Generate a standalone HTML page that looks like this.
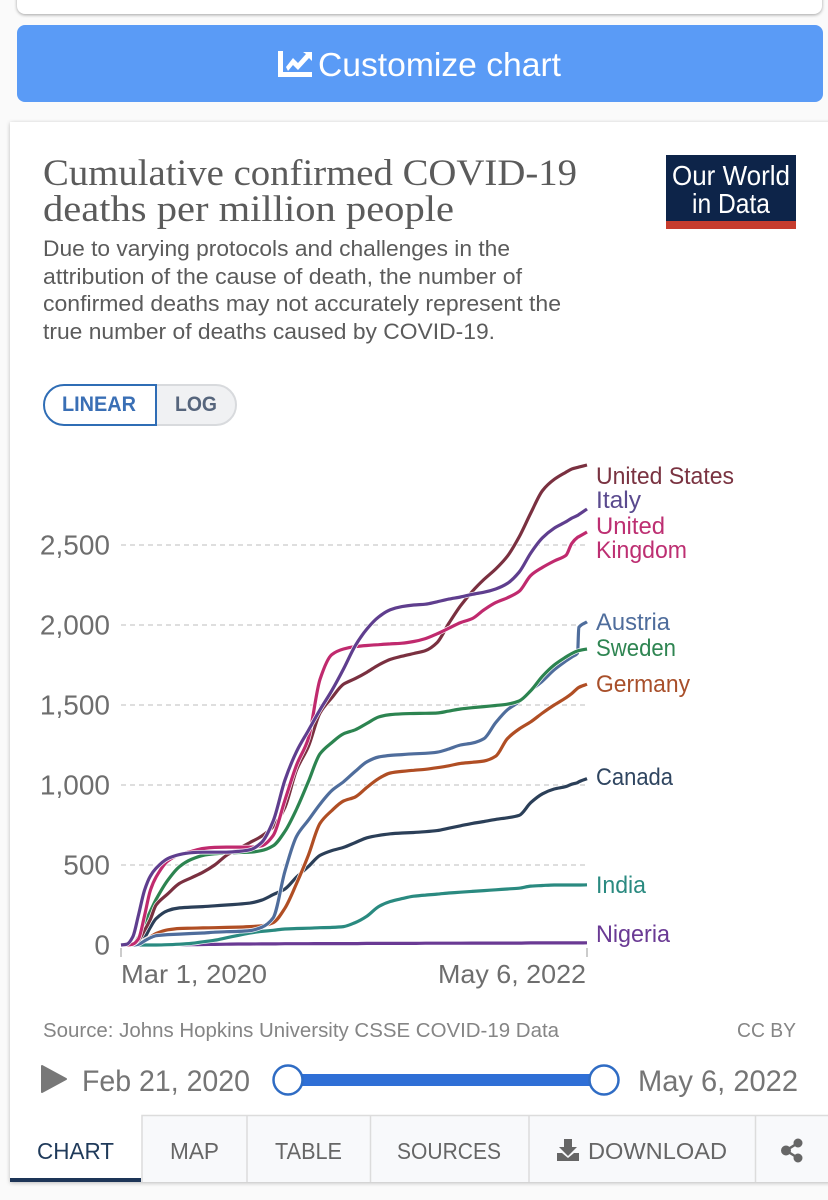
<!DOCTYPE html>
<html lang="en">
<head>
<meta charset="utf-8">
<title>Cumulative confirmed COVID-19 deaths per million people</title>
<style>
  html, body { margin: 0; padding: 0; width: 828px; height: 1200px; overflow: hidden; background: #fafafa; }
  #page { position: relative; width: 828px; height: 1200px; overflow: hidden; }
  .box { position: absolute; box-sizing: border-box; }
  svg { position: absolute; left: 0; top: 0; }
  text { font-family: "Liberation Sans", sans-serif; }
  .serif { font-family: "Liberation Serif", serif; }
  .sub { font-size: 22px; fill: #5b5b5b; }
  .title { font-size: 37px; fill: #5b5b5b; }
  .lab { font-size: 24px; }
  .tab { font-size: 23px; fill: #666; }
</style>
</head>
<body>
<div id="page">
  <div class="box" style="left:17px;top:-20px;width:805px;height:34px;background:#fff;border-radius:8px;box-shadow:0 1px 3px rgba(0,0,0,.35)"></div>
  <div class="box" style="left:17px;top:25px;width:806px;height:77px;background:#5a9bf6;border-radius:8px"></div>
  <div class="box" style="left:10px;top:122px;width:830px;height:1060px;background:#fff;box-shadow:0 1px 4px rgba(0,0,0,.25)"></div>

  <svg id="main" width="828" height="1200" viewBox="0 0 828 1200">
    <!-- Customize button -->
    <g>
      <path d="M278 51h5v21h29v5h-34z M286 67l7-9 5 5 8-9-3-2h9v9l-3-3-11 12-5-5-5 6z" fill="#fff"/>
      <text x="318" y="76" font-size="33" fill="#fff" textLength="243" lengthAdjust="spacingAndGlyphs">Customize chart</text>
    </g>

    <!-- Heading -->
    <text class="serif title" x="43" y="185" textLength="534" lengthAdjust="spacingAndGlyphs">Cumulative confirmed COVID-19</text>
    <text class="serif title" x="43" y="221" textLength="411" lengthAdjust="spacingAndGlyphs">deaths per million people</text>
    <text class="sub" x="43" y="256" textLength="467" lengthAdjust="spacingAndGlyphs">Due to varying protocols and challenges in the</text>
    <text class="sub" x="43" y="284" textLength="479" lengthAdjust="spacingAndGlyphs">attribution of the cause of death, the number of</text>
    <text class="sub" x="43" y="311" textLength="518" lengthAdjust="spacingAndGlyphs">confirmed deaths may not accurately represent the</text>
    <text class="sub" x="43" y="339" textLength="452" lengthAdjust="spacingAndGlyphs">true number of deaths caused by COVID-19.</text>

    <!-- Logo -->
    <g>
      <rect x="666" y="155" width="130" height="66" fill="#0d2449"/>
      <rect x="666" y="221" width="130" height="8" fill="#c63c2e"/>
      <text x="672" y="185" font-size="28" fill="#fff" textLength="118" lengthAdjust="spacingAndGlyphs">Our World</text>
      <text x="692" y="213" font-size="28" fill="#fff" textLength="78" lengthAdjust="spacingAndGlyphs">in Data</text>
    </g>

    <!-- Scale toggle -->
    <g>
      <path d="M150 385h66a20 20 0 0 1 0 40h-66z" fill="#f0f1f3" stroke="#d8dadd" stroke-width="2"/>
      <path d="M156 385H64a20 20 0 0 0 0 40h92z" fill="#fff" stroke="#2f6db5" stroke-width="2"/>
      <text x="62" y="411" font-size="21" font-weight="700" fill="#3a6fb5" textLength="74" lengthAdjust="spacingAndGlyphs">LINEAR</text>
      <text x="175" y="411" font-size="21" font-weight="700" fill="#56657c" textLength="42" lengthAdjust="spacingAndGlyphs">LOG</text>
    </g>

    <g id="grid-layer"></g>
    <g id="tick-layer"></g>
    <g id="line-layer"></g>

    <!-- End labels -->
    <g>
      <text class="lab" x="596" y="484" fill="#7a3341" textLength="138" lengthAdjust="spacingAndGlyphs">United States</text>
      <text class="lab" x="596" y="508" fill="#5a4a8e" textLength="45" lengthAdjust="spacingAndGlyphs">Italy</text>
      <text class="lab" x="596" y="534" fill="#bd2f72" textLength="69" lengthAdjust="spacingAndGlyphs">United</text>
      <text class="lab" x="596" y="558" fill="#bd2f72" textLength="91" lengthAdjust="spacingAndGlyphs">Kingdom</text>
      <text class="lab" x="596" y="630" fill="#4f6d9c" textLength="74" lengthAdjust="spacingAndGlyphs">Austria</text>
      <text class="lab" x="596" y="656" fill="#2f8552" textLength="80" lengthAdjust="spacingAndGlyphs">Sweden</text>
      <text class="lab" x="596" y="692" fill="#a84f2a" textLength="94" lengthAdjust="spacingAndGlyphs">Germany</text>
      <text class="lab" x="596" y="785" fill="#2f4560" textLength="77" lengthAdjust="spacingAndGlyphs">Canada</text>
      <text class="lab" x="596" y="893" fill="#2a8a80" textLength="50" lengthAdjust="spacingAndGlyphs">India</text>
      <text class="lab" x="596" y="942" fill="#6a3a94" textLength="74" lengthAdjust="spacingAndGlyphs">Nigeria</text>
    </g>

    <!-- Footer -->
    <text x="43" y="1037" font-size="20" fill="#858585" textLength="516" lengthAdjust="spacingAndGlyphs">Source: Johns Hopkins University CSSE COVID-19 Data</text>
    <text x="737" y="1037" font-size="20" fill="#858585" textLength="59" lengthAdjust="spacingAndGlyphs">CC BY</text>

    <!-- Timeline -->
    <g>
      <path d="M42 1066 L66 1079 L42 1092 Z" fill="#787878" stroke="#787878" stroke-width="2" stroke-linejoin="round"/>
      <text x="82" y="1091" font-size="30" fill="#757575" textLength="168" lengthAdjust="spacingAndGlyphs">Feb 21, 2020</text>
      <rect x="288" y="1074" width="316" height="12" fill="#2f6fd6"/>
      <circle cx="288" cy="1080" r="14.500" fill="#fff" stroke="#2f6cc4" stroke-width="2.500"/>
      <circle cx="604" cy="1080" r="14.500" fill="#fff" stroke="#2f6cc4" stroke-width="2.500"/>
      <text x="638" y="1091" font-size="30" fill="#757575" textLength="160" lengthAdjust="spacingAndGlyphs">May 6, 2022</text>
    </g>

    <!-- Tabs -->
    <g>
      <rect x="142" y="1115" width="686" height="67" fill="#f8f9fb"/>
      <path d="M142 1182V1115.500H828 M247 1115V1182 M370.500 1115V1182 M529 1115V1182 M755.500 1115V1182" fill="none" stroke="#dcdcdc" stroke-width="1.500"/>
      <rect x="10" y="1178" width="131" height="4" fill="#1d3557"/>
      <text class="tab" x="37" y="1159" style="fill:#1f3a5a" textLength="77" lengthAdjust="spacingAndGlyphs">CHART</text>
      <text class="tab" x="170" y="1159" textLength="49" lengthAdjust="spacingAndGlyphs">MAP</text>
      <text class="tab" x="275" y="1159" textLength="67" lengthAdjust="spacingAndGlyphs">TABLE</text>
      <text class="tab" x="397" y="1159" textLength="104" lengthAdjust="spacingAndGlyphs">SOURCES</text>
      <path d="M564 1139h8v8h5l-9 9-9-9h5z M557 1153h5l6 5 6-5h5v8h-22z" fill="#666"/>
      <text class="tab" x="588" y="1159" textLength="139" lengthAdjust="spacingAndGlyphs">DOWNLOAD</text>
      <g fill="#666" stroke="#666">
        <circle cx="798" cy="1143" r="4" />
        <circle cx="786" cy="1150.500" r="4.500" />
        <circle cx="798" cy="1158" r="4" />
        <path d="M798 1143L786 1150.500L798 1158" fill="none" stroke-width="2.500"/>
      </g>
    </g>
  </svg>
</div>

<script>
// ---- Chart data: days since Mar 1, 2020; deaths per million ----
const days = [0,10,20,30,40,50,60,
  80,100,120,140,160,180,200,220,240,260,
  280,300,320,340,360,380,400,420,440,460,
  480,500,520,540,560,580,600,620,640,660,
  680,700,720,740,760,
  770,780,782,796];

const italyValues = [0,5,50,190,340,430,480,
  540,565,577,580,580,580,585,595,640,775,
  1030,1210,1340,1470,1590,1725,1870,1975,2050,2095,
  2115,2125,2130,2145,2162,2175,2192,2205,2225,2260,
  2330,2450,2545,2605,2645,
  2668,2685,2690,2725];

const ukValues = [0,0,5,40,180,340,425,
  525,565,585,603,610,612,612,612,620,685,
  905,1125,1290,1660,1815,1850,1865,1872,1877,1882,
  1886,1897,1915,1945,1980,2015,2040,2095,2140,2170,
  2210,2310,2360,2400,2435,
  2510,2548,2552,2581];

const usValues = [0,0,5,30,90,160,250,
  320,385,420,455,500,560,600,640,680,740,
  860,1095,1240,1450,1545,1630,1665,1705,1750,1785,
  1805,1822,1840,1890,2010,2120,2210,2285,2350,2430,
  2550,2700,2840,2910,2955,
  2975,2985,2987,3000];

const swedenValues = [0,0,5,50,130,210,285,
  405,490,535,560,570,575,578,580,590,620,
  710,850,1020,1195,1265,1320,1345,1385,1425,1440,
  1445,1447,1448,1450,1462,1475,1483,1490,1497,1505,
  1525,1590,1680,1750,1800,
  1822,1838,1840,1850];

const austriaValues = [0,0,0,5,25,45,58,
  65,68,72,75,80,83,85,90,110,170,
  460,680,780,880,965,1020,1085,1145,1175,1185,
  1190,1195,1198,1205,1225,1250,1262,1290,1390,1470,
  1520,1590,1650,1720,1775,
  1800,1825,1985,2020];

const germanyValues = [0,0,0,5,30,50,72,
  95,103,105,107,108,110,112,115,120,140,
  230,385,560,760,840,900,925,985,1040,1075,
  1085,1092,1098,1108,1120,1135,1142,1150,1180,1290,
  1350,1395,1450,1500,1545,
  1572,1605,1610,1630];

const canadaValues = [0,0,0,10,45,110,165,
  215,232,237,240,245,250,255,262,280,315,
  350,425,490,560,590,610,640,670,685,695,
  700,703,708,715,730,745,760,772,785,795,
  810,890,945,975,990,
  1005,1015,1020,1040];

const indiaValues = [0,0,0,0,0,0,0,
  2,5,10,20,30,45,60,75,85,92,
  100,103,105,108,110,115,140,180,240,272,
  290,305,312,318,325,330,335,340,345,350,
  355,368,372,375,375,
  375,375,375,376];

const nigeriaValues = [0,0,0,0,0,0,0,
  0,1,2,3,4,5,6,6,7,7,
  8,8,8,9,9,9,9,10,10,10,
  10,10,11,11,11,11,12,12,12,12,
  12,13,13,13,13,
  13,13,13,14];

const yTicks = [0,500,1000,1500,2000,2500];
const yTickLabels = ["0","500","1,000","1,500","2,000","2,500"];
const xTicks = [0,796];
const xTickLabels = ["Mar 1, 2020","May 6, 2022"];

// ---- Axis functions ----
const SVG_NS = "http://www.w3.org/2000/svg";
const plotLeft = 121, plotRight = 587, plotBottom = 945, plotPerUnit = 0.16;
const xMax = 796;
function xScale(d) { return plotLeft + (d / xMax) * (plotRight - plotLeft); }
function yScale(v) { return plotBottom - v * plotPerUnit; }

const gridLayer = document.getElementById("grid-layer");
const tickLayer = document.getElementById("tick-layer");
const lineLayer = document.getElementById("line-layer");

// ---- Y axis ----
yTicks.forEach(function (t, i) {
  if (t !== 0) {
    const g = document.createElementNS(SVG_NS, "line");
    
    
    g.setAttribute("x1", plotLeft);
    g.setAttribute("x2", plotRight);
    g.setAttribute("y1", yScale(t));
    g.setAttribute("y2", yScale(t));
    g.setAttribute("stroke", "#d4d4d4");
    g.setAttribute("stroke-width", "1.5");
    g.setAttribute("stroke-dasharray", "5 4");
    gridLayer.appendChild(g);
  }
  const lbl = document.createElementNS(SVG_NS, "text");
  
  
  lbl.setAttribute("x", 110);
  lbl.setAttribute("y", yScale(t) + 9.5);
  lbl.setAttribute("text-anchor", "end");
  lbl.setAttribute("font-size", "28");
  lbl.setAttribute("fill", "#6e6e6e");
  lbl.textContent = yTickLabels[i];
  tickLayer.appendChild(lbl);
});

// ---- X axis ----
xTicks.forEach(function (t, i) {
  const tk = document.createElementNS(SVG_NS, "line");
  
  
  tk.setAttribute("x1", xScale(t));
  tk.setAttribute("x2", xScale(t));
  tk.setAttribute("y1", plotBottom + 3);
  tk.setAttribute("y2", plotBottom + 12);
  tk.setAttribute("stroke", "#bbbbbb");
  tk.setAttribute("stroke-width", "1.5");
  tickLayer.appendChild(tk);
  const lbl = document.createElementNS(SVG_NS, "text");
  
  
  lbl.setAttribute("x", i === 0 ? xScale(t) : xScale(t) - 1);
  lbl.setAttribute("y", 983);
  lbl.setAttribute("text-anchor", i === 0 ? "start" : "end");
  lbl.setAttribute("font-size", "26");
  lbl.setAttribute("fill", "#6e6e6e");
  lbl.setAttribute("textLength", i === 0 ? "146" : "148");
  lbl.setAttribute("lengthAdjust", "spacingAndGlyphs");
  lbl.textContent = xTickLabels[i];
  tickLayer.appendChild(lbl);
});

// ---- Series: monotone cubic through the data points ----
function linePath(values) {
  const xs = days.map(xScale);
  const ys = values.map(yScale);
  const n = xs.length;
  const slopes = [];
  for (let i = 0; i < n - 1; i++) {
    slopes.push((ys[i + 1] - ys[i]) / (xs[i + 1] - xs[i]));
  }
  const tangents = [slopes[0]];
  for (let i = 1; i < n - 1; i++) {
    const a = slopes[i - 1], b = slopes[i];
    tangents.push(a * b <= 0 ? 0 : 2 * a * b / (a + b));
  }
  tangents.push(slopes[n - 2]);
  let path = "M" + xs[0].toFixed(1) + " " + ys[0].toFixed(1);
  for (let i = 0; i < n - 1; i++) {
    const h = (xs[i + 1] - xs[i]) / 3;
    path += "C" + (xs[i] + h).toFixed(1) + " " + (ys[i] + tangents[i] * h).toFixed(1) +
      " " + (xs[i + 1] - h).toFixed(1) + " " + (ys[i + 1] - tangents[i + 1] * h).toFixed(1) +
      " " + xs[i + 1].toFixed(1) + " " + ys[i + 1].toFixed(1);
  }
  return path;
}
function drawSeries(values, color, key) {
  const halo = document.createElementNS(SVG_NS, "path");
  
  
  halo.setAttribute("d", linePath(values));
  halo.setAttribute("fill", "none");
  halo.setAttribute("stroke", "#ffffff");
  halo.setAttribute("stroke-width", "4.5");
  halo.setAttribute("stroke-linejoin", "round");
  lineLayer.appendChild(halo);
  const line = document.createElementNS(SVG_NS, "path");
  
  
  line.setAttribute("d", linePath(values));
  line.setAttribute("fill", "none");
  line.setAttribute("stroke", color);
  line.setAttribute("stroke-width", "3.2");
  line.setAttribute("stroke-linejoin", "round");
  lineLayer.appendChild(line);
}
drawSeries(nigeriaValues, "#6a3a94", "nigeria");
drawSeries(indiaValues, "#2a8a80", "india");
drawSeries(canadaValues, "#2b3f58", "canada");
drawSeries(germanyValues, "#b04e24", "germany");
drawSeries(austriaValues, "#4f6d9c", "austria");
drawSeries(swedenValues, "#2c8450", "sweden");
drawSeries(usValues, "#7a3040", "united-states");
drawSeries(ukValues, "#c02a6e", "united-kingdom");
drawSeries(italyValues, "#5f3e8e", "italy");
</script>
</body>
</html>
